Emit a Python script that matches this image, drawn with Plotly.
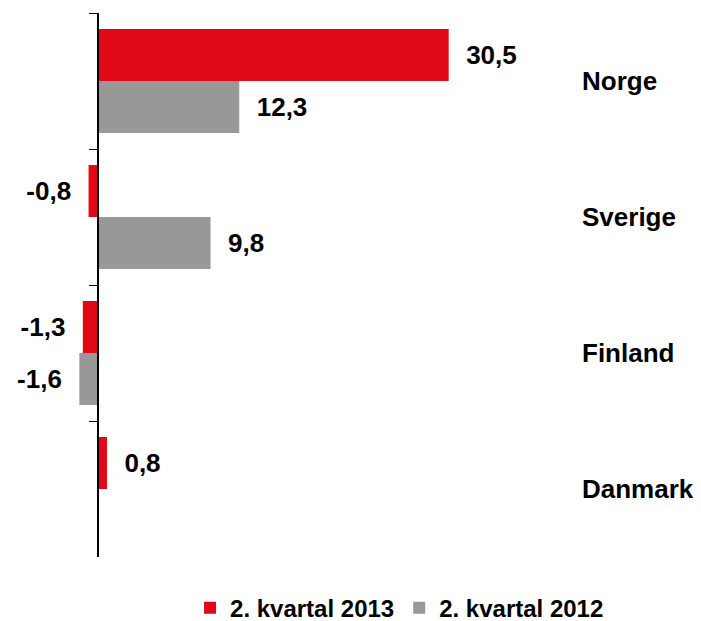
import plotly.graph_objects as go

categories = ["Norge", "Sverige", "Finland", "Danmark"]
series_2013 = [30.5, -0.8, -1.3, 0.8]
series_2012 = [12.3, 9.8, -1.6, None]
series_names = ["2. kvartal 2013", "2. kvartal 2012"]

RED = "#E00A16"
GRAY = "#989898"
FONT = "Liberation Sans, Arial, sans-serif"
NB = "\u00a0\u00a0"

def fmt(v):
    if v is None:
        return ""
    s = f"{v:.1f}".replace(".", ",")
    return "<b>" + (NB + s if v >= 0 else s + NB) + "</b>"

x_min, x_max = -2.5, 42

fig = go.Figure()
for name, vals, col in [(series_names[0], series_2013, RED), (series_names[1], series_2012, GRAY)]:
    fig.add_trace(go.Bar(
        y=categories, x=vals, orientation="h", name="<b>%s</b>" % name,
        marker=dict(color=col, line=dict(width=0)),
        text=[fmt(v) for v in vals], textposition="outside",
        textfont=dict(family=FONT, size=26, color="black"),
        cliponaxis=False,
    ))

for c in categories:
    fig.add_annotation(x=0.998, xref="paper", y=c, yref="y", text="<b>%s</b>" % c,
                       showarrow=False, xanchor="left", yanchor="middle",
                       font=dict(family=FONT, size=26, color="black"))

fig.update_layout(
    width=693, height=613,
    margin=dict(l=61, r=120, t=5, b=64),
    paper_bgcolor="white", plot_bgcolor="white",
    barmode="group", bargap=0.235, bargroupgap=0,
    font=dict(family=FONT, size=24, color="black"),
    xaxis=dict(range=[x_min, x_max], visible=False, domain=[0, 1]),
    yaxis=dict(autorange="reversed", anchor="free", position=(0 - x_min) / (x_max - x_min),
               showline=True, linecolor="black", linewidth=1.5,
               ticks="outside", tickson="boundaries", ticklen=8, tickcolor="black",
               showticklabels=False, showgrid=False, zeroline=False),
    legend=dict(orientation="h", xref="container", yref="container",
                x=0.565, xanchor="center", y=0.021, yanchor="middle",
                font=dict(family=FONT, size=24, color="black"),
                itemwidth=30, tracegroupgap=0),
)
fig.write_html("out.html")
